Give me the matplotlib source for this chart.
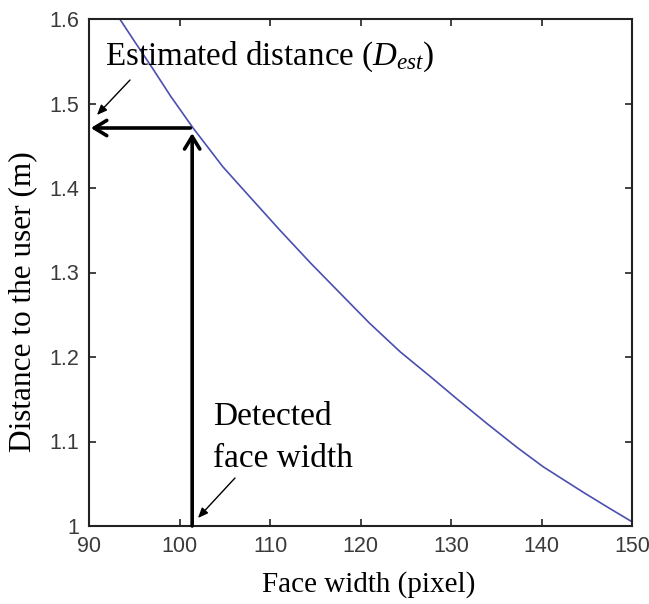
import matplotlib
matplotlib.use("Agg")
import matplotlib.pyplot as plt

# Data
face_width = [93.4, 95.0, 97.0, 99.0, 101.5, 104.8, 107.9, 111.1, 114.5, 117.7,
              121.0, 124.4, 127.7, 130.7, 134.0, 137.3, 140.2, 144.6, 147.5, 150.0]
distance = [1.600, 1.574, 1.542, 1.509, 1.471, 1.425, 1.388, 1.350, 1.311, 1.276,
            1.240, 1.206, 1.177, 1.150, 1.121, 1.093, 1.070, 1.040, 1.021, 1.005]
detected_width = 101.4
estimated_distance = 1.471
x_ticks = [90, 100, 110, 120, 130, 140, 150]
y_ticks = [1.0, 1.1, 1.2, 1.3, 1.4, 1.5, 1.6]
y_tick_labels = ["1", "1.1", "1.2", "1.3", "1.4", "1.5", "1.6"]

serif = ["Liberation Serif", "DejaVu Serif"]
sans = ["Liberation Sans", "DejaVu Sans"]

plt.rcParams["mathtext.fontset"] = "custom"
plt.rcParams["mathtext.rm"] = "Liberation Serif"
plt.rcParams["mathtext.it"] = "Liberation Serif:italic"

fig = plt.figure(figsize=(6.49, 6.04), dpi=100)
ax = fig.add_axes([89 / 649, 1 - 526 / 604, (632 - 89) / 649, (526 - 19) / 604])

ax.plot(face_width, distance, color="#4a4fb0", lw=1.2)

ax.set_xlim(90, 150)
ax.set_ylim(1.0, 1.6)
ax.set_xticks(x_ticks)
ax.set_yticks(y_ticks)
ax.set_yticklabels(y_tick_labels)
ax.tick_params(direction="in", top=True, right=True, length=5, width=1.2,
               labelsize=15.5, colors="#222222", pad=7)
for lab in ax.get_xticklabels() + ax.get_yticklabels():
    lab.set_family(sans)
    lab.set_color("#3a3a3a")
for s in ax.spines.values():
    s.set_linewidth(1.5)
    s.set_color("#222222")

ax.set_xlabel("Face width (pixel)", family=serif, fontsize=21)
ax.xaxis.set_label_coords((369 - 89) / 543, (526 - 571) / 507)
ax.set_ylabel("Distance to the user (m)", family=serif, fontsize=22.5)
ax.yaxis.set_label_coords((37 - 89) / 543, (526 - 302) / 507)

# Thick arrows
arrow_style = "->,head_length=0.9,head_width=0.55"
ax.annotate("", xy=(90.2, estimated_distance), xytext=(detected_width - 0.2, estimated_distance),
            arrowprops=dict(arrowstyle=arrow_style, lw=2.6, color="black",
                            shrinkA=0, shrinkB=0), annotation_clip=False)
ax.annotate("", xy=(detected_width, estimated_distance - 0.006), xytext=(detected_width, 1.0),
            arrowprops=dict(arrowstyle=arrow_style, lw=2.6, color="black",
                            shrinkA=0, shrinkB=0), annotation_clip=False)

# Text labels
ax.text(91.8, 1.5456, r"Estimated distance ($\mathit{D}_{\mathit{est}}$)", family=serif,
        fontsize=23.8, va="baseline", ha="left")
ax.text(103.7, 1.1195, "Detected", family=serif, fontsize=24, va="baseline", ha="left")
ax.text(103.7, 1.0698, "face width", family=serif, fontsize=24, va="baseline", ha="left")

# Thin pointer arrows
thin_style = "-|>,head_length=0.6,head_width=0.25"
ax.annotate("", xy=(90.88, 1.4864), xytext=(94.53, 1.5278),
            arrowprops=dict(arrowstyle=thin_style, lw=1.0, color="black", shrinkA=0, shrinkB=0))
ax.annotate("", xy=(102.04, 1.0095), xytext=(106.13, 1.0568),
            arrowprops=dict(arrowstyle=thin_style, lw=1.0, color="black", shrinkA=0, shrinkB=0))

fig.savefig("out.png", dpi=100)
